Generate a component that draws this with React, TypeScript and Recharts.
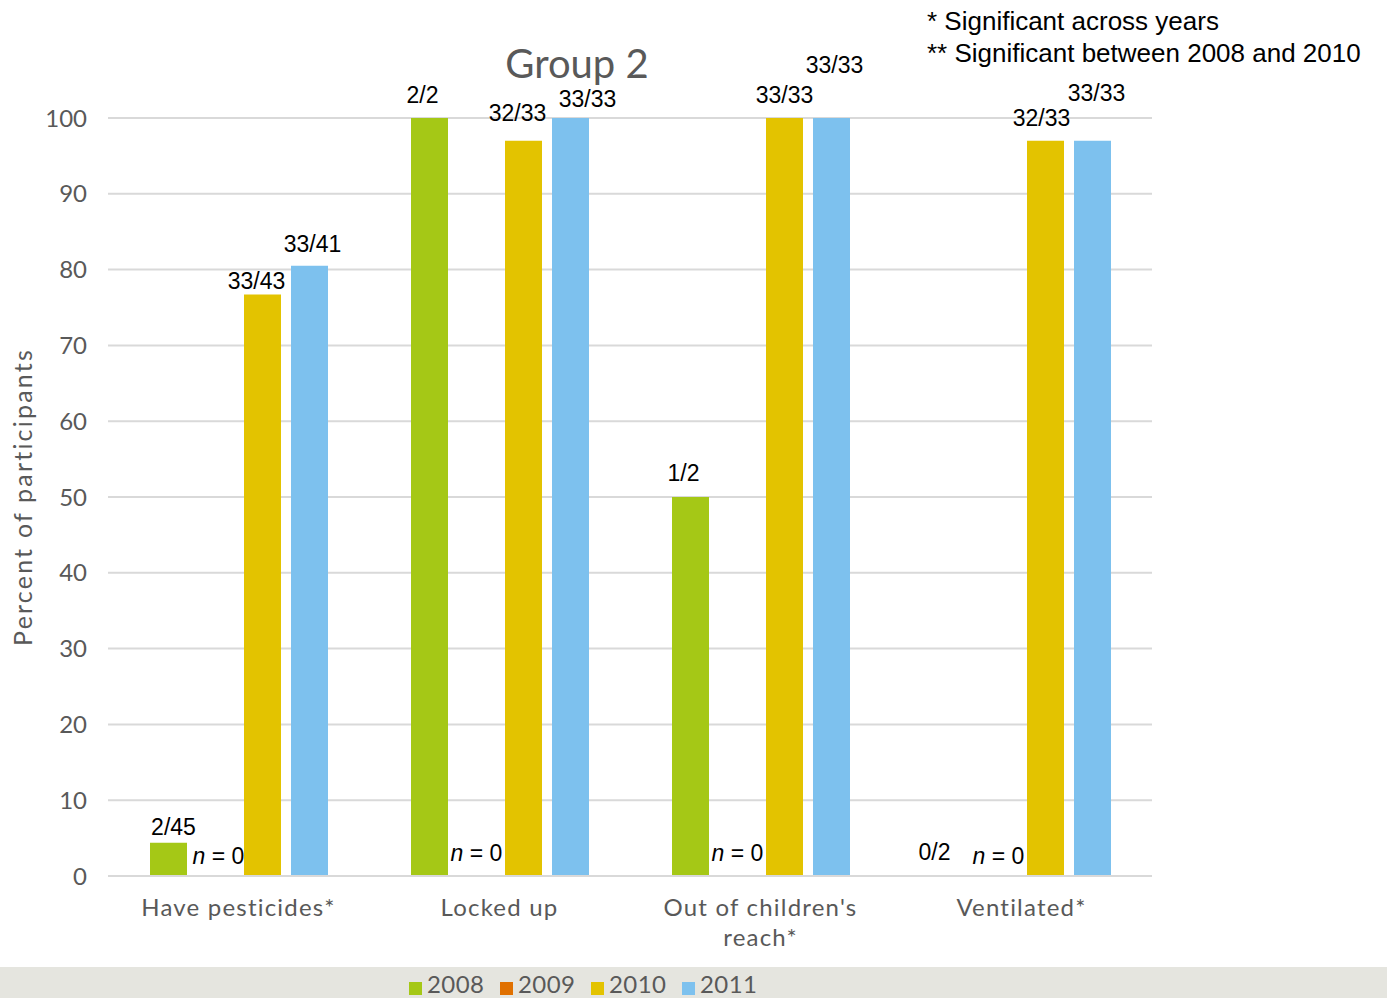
import { BarChart, Bar, XAxis, YAxis, CartesianGrid, Legend, LabelList } from "recharts";

// Share of participants per storage practice, by survey year
const categories = ["Have pesticides*", "Locked up", "Out of children's reach*", "Ventilated*"];
const years = ["2008", "2009", "2010", "2011"];

const pct2008 = [4.4, 100, 50, 0];
const pct2009 = [0, 0, 0, 0];
const pct2010 = [76.7, 97, 100, 97];
const pct2011 = [80.5, 100, 100, 97];

const counts2008 = ["2/45", "2/2", "1/2", "0/2"];
const counts2009 = ["n = 0", "n = 0", "n = 0", "n = 0"];
const counts2010 = ["33/43", "32/33", "33/33", "32/33"];
const counts2011 = ["33/41", "33/33", "33/33", "33/33"];

const yTicks = [0, 10, 20, 30, 40, 50, 60, 70, 80, 90, 100];

const colors = ["#A5C816", "#E07000", "#E3C300", "#7DC1EE"];

const pctBySeries = [pct2008, pct2009, pct2010, pct2011];
const countsBySeries = [counts2008, counts2009, counts2010, counts2011];

const BAR_SIZE = 37;
const BAR_GAP = 10;

// hand placement of the count labels so they don't collide
const labelNudge = [
  [[5, 0], [-7, -7], [-7, -8], [-17, -8]],
  [[3, -4], [0, -7], [0, -7], [0, -4]],
  [[-6, 2], [-6, -12], [0, -7], [-4, -7]],
  [[3, -6], [17, -3], [3, -37], [4, -32]],
];

const data = categories.map((name, i) => ({
  name,
  y2008: pct2008[i],
  y2009: pct2009[i],
  y2010: pct2010[i],
  y2011: pct2011[i],
  c2008: counts2008[i],
  c2009: counts2009[i],
  c2010: counts2010[i],
  c2011: counts2011[i],
}));

const gothic = "Lato, 'Open Sans', sans-serif";
const arial = "'Liberation Sans', Arial, sans-serif";
const grey = "#595959";

const CountText = ({ x, y, text }: { x: number; y: number; text: string }) => (
  <text x={x} y={y} textAnchor="middle" fontFamily={arial} fontSize={23} fill="#000">
    {text.startsWith("n") ? (
      <>
        <tspan fontStyle="italic">n</tspan>
        <tspan>{text.slice(1)}</tspan>
      </>
    ) : (
      text
    )}
  </text>
);

// Zero-height bars get no label from recharts, so the next non-empty bar
// in the group also writes the labels of the empty ones to its left.
const makeCountLabel = (series: number) => (props: any) => {
  const { x, y, width, height, value, index } = props;
  const bx = Number(x);
  const base = Number(y) + Number(height);
  const out = [];
  const [dx, dy] = labelNudge[series][index] || [0, 0];
  out.push(
    <CountText key={series} x={bx + Number(width) / 2 + dx} y={Number(y) - 8 + dy} text={String(value)} />
  );
  for (let k = series - 1; k >= 0 && pctBySeries[k][index] === 0; k--) {
    const [kdx, kdy] = labelNudge[k][index];
    const kx = bx - (series - k) * (BAR_SIZE + BAR_GAP) + BAR_SIZE / 2;
    out.push(<CountText key={k} x={kx + kdx} y={base - 8 + kdy} text={countsBySeries[k][index]} />);
  }
  return <g>{out}</g>;
};

// break long category names over two lines
const wrapWords = (s: string, maxChars: number) => {
  const lines: string[] = [];
  let cur = "";
  s.split(" ").forEach((w) => {
    const next = cur ? `${cur} ${w}` : w;
    if (next.length > maxChars && cur) {
      lines.push(cur);
      cur = w;
    } else {
      cur = next;
    }
  });
  if (cur) lines.push(cur);
  return lines;
};

const CategoryTick = (props: any) => {
  const { x, y, payload } = props;
  const lines = wrapWords(String(payload.value), 17);
  return (
    <text
      x={x}
      y={y + 32}
      textAnchor="middle"
      fill={grey}
      fontFamily={gothic}
      fontSize={24}
      letterSpacing={1.2}
    >
      {lines.map((ln, i) => (
        <tspan key={i} x={x} dy={i === 0 ? 0 : 30}>
          {ln}
        </tspan>
      ))}
    </text>
  );
};

const YearLegend = (props: any) => {
  const { payload } = props;
  return (
    <div style={{ display: "flex", paddingLeft: 409, height: 31 }}>
      {(payload || []).map((p: any) => (
        <div key={p.value} style={{ position: "relative", width: 91, height: 31 }}>
          <span
            style={{ position: "absolute", left: 0, top: 15, width: 13, height: 13, background: p.color }}
          />
          <span
            style={{
              position: "absolute",
              left: 18,
              top: 5,
              fontFamily: gothic,
              fontSize: 24,
              lineHeight: "24px",
              letterSpacing: 0.4,
              color: grey,
              whiteSpace: "nowrap",
            }}
          >
            {p.value}
          </span>
        </div>
      ))}
    </div>
  );
};

export default function App() {
  return (
    <div style={{ position: "absolute", left: 0, top: 0, width: 1387, height: 998, background: "#fff", overflow: "hidden" }}>
      <div
        style={{
          position: "absolute",
          left: 477,
          width: 200,
          top: 38,
          textAlign: "center",
          fontFamily: gothic,
          fontSize: 40,
          lineHeight: "50px",
          color: grey,
        }}
      >
        Group 2
      </div>
      <div
        style={{
          position: "absolute",
          left: 927,
          top: 5,
          fontFamily: arial,
          fontSize: 26,
          lineHeight: "32px",
          color: "#000",
        }}
      >
        <div>* Significant across years</div>
        <div>** Significant between 2008 and 2010</div>
      </div>
      <BarChart
        width={1387}
        height={998}
        data={data}
        margin={{ top: 118, right: 235, left: 8, bottom: 62 }}
        barSize={BAR_SIZE}
        barGap={BAR_GAP}
      >
        <CartesianGrid vertical={false} stroke="#D9D9D9" strokeWidth={2} />
        <XAxis
          dataKey="name"
          height={60}
          axisLine={{ stroke: "#D9D9D9", strokeWidth: 2 }}
          tickLine={false}
          tick={<CategoryTick />}
          interval={0}
        />
        <YAxis
          width={100}
          domain={[0, 100]}
          ticks={yTicks}
          axisLine={false}
          tickLine={false}
          tickMargin={15}
          tick={{ fill: grey, fontSize: 24, fontFamily: gothic }}
          label={{
            value: "Percent of participants",
            angle: -90,
            position: "insideLeft",
            offset: 15,
            style: { textAnchor: "middle", fill: grey, fontSize: 25, fontFamily: gothic, letterSpacing: 2.2 },
          }}
        />
        <Legend
          verticalAlign="middle"
          content={<YearLegend />}
          wrapperStyle={{ left: 0, top: 967, width: 1387, height: 31, backgroundColor: "#E5E5DF" }}
        />
        {years.map((yr, s) => (
          <Bar key={yr} dataKey={`y${yr}`} name={yr} fill={colors[s]} isAnimationActive={false}>
            <LabelList dataKey={`c${yr}`} content={makeCountLabel(s)} />
          </Bar>
        ))}
      </BarChart>
    </div>
  );
}
